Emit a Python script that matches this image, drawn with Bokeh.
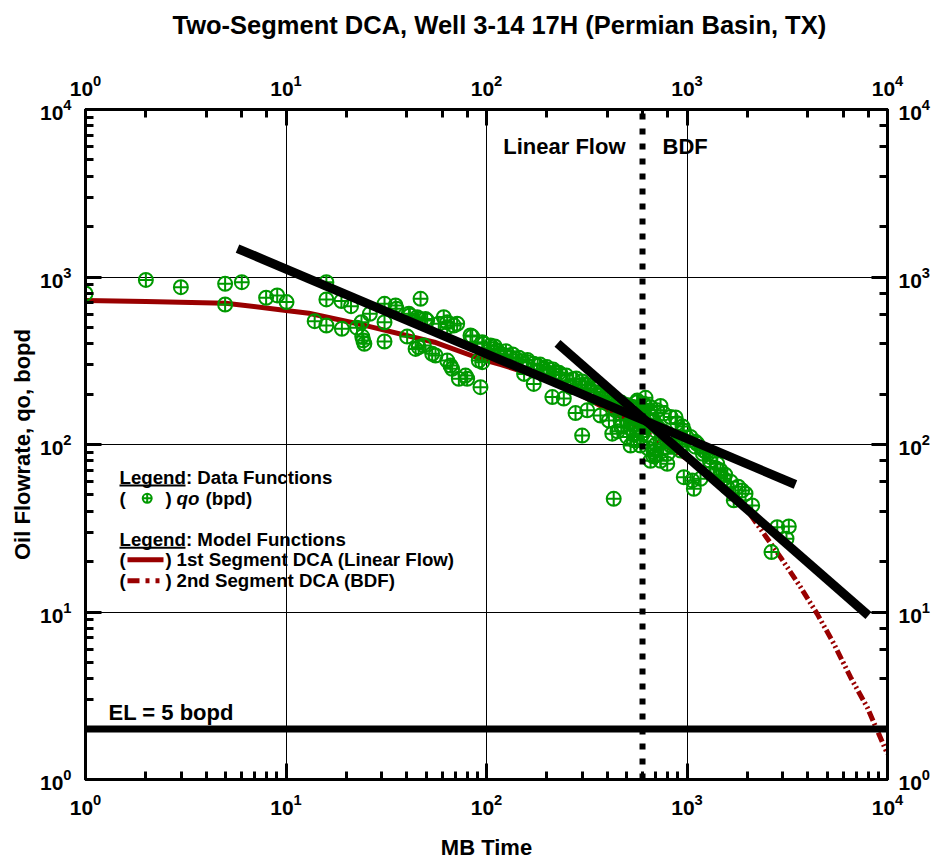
from bokeh.plotting import figure
from bokeh.models import Range1d, LogAxis, Label, Title
from bokeh.embed import file_html
from bokeh.resources import INLINE

FONT = "Liberation Sans"
GREEN = "#009900"
RED = "#990000"
TITLE = "Two-Segment DCA, Well 3-14 17H (Permian Basin, TX)"

# ---------------- data ----------------
mb_time = [1.0, 2.0, 2.99, 4.97, 6.02, 4.97, 7.96, 9.04, 10.06, 13.9,
           15.9, 15.9, 18.9, 21.1, 15.9, 19.0, 22.6, 23.8, 24.0, 24.3,
           24.6, 26.2, 31.0, 31.0, 31.0, 35.2, 35.6, 40.2, 41.5, 44.3,
           45.9, 48.7, 46.9, 45.9, 50.6, 53.6, 55.7, 61.2, 63.7, 63.7,
           71.4, 63.7, 66.1, 72.8, 78.6, 80.1, 83.2, 91.5, 93.3, 41.0,
           45.1, 49.6, 57.8, 68.7, 67.4, 84.9, 95.2, 104.7, 113, 96.9,
           108.7, 117.5, 131.8, 150.7, 172, 193, 221, 253, 294, 330,
           370, 431, 484, 565, 609, 154, 172, 213, 243, 278,
           318, 370, 408, 424, 503, 565, 95.2, 300, 431, 124.5,
           201, 262, 343, 466, 523, 543, 565, 609, 658, 710,
           766, 828, 894, 964, 1041, 1124, 1213, 1310, 1415, 1469,
           543, 586, 683, 738, 797, 964, 1062, 1082, 1310, 1527,
           1587, 1884, 1958, 2114, 1168, 1469, 1711, 2818, 3220, 3135,
           2638, 586, 643, 697, 738, 828, 929, 621, 738, 877,
           950, 1100, 1250, 658, 697, 586, 523, 466, 440, 140,
           160, 180, 205, 235, 270, 310, 350, 390, 450, 520,
           110, 125, 135, 145, 160, 185, 200, 215, 230, 250,
           280, 300, 320, 345, 380, 410, 440, 470, 500, 530,
           560, 590, 610, 550, 500, 470, 450, 520, 580, 600,
           620, 650, 680, 700, 720, 760, 800, 840, 880, 920,
           700, 760, 800, 640, 680, 1000, 1100, 1200, 1300, 1400,
           1550, 1650, 1800]
qo_bpd = [797, 961, 869, 910, 931, 685, 752, 776, 708, 545,
          931, 735, 718, 670, 513, 491, 498, 537, 441, 418,
          399, 603, 692, 537, 412, 676, 646, 441, 589, 372,
          381, 390, 741, 562, 549, 348, 340, 575, 537, 501,
          526, 317, 296, 247, 258, 247, 448, 317, 220, 603,
          575, 562, 526, 513, 283, 441, 408, 390, 364, 399,
          372, 348, 332, 314, 303, 283, 271, 241, 225, 210,
          196, 183, 167, 179, 160, 264, 230, 192, 188, 154,
          160, 149, 139, 116, 111, 106, 310, 113, 47.4, 340,
          264, 220, 192, 153, 134, 121, 183, 175, 167, 160,
          153, 146, 134, 121, 111, 101, 92, 84, 76.7, 70,
          106, 111, 90, 80, 76.7, 63.8, 61, 54.4, 73.3, 62.4,
          55.6, 53.1, 50.8, 43.3, 62.4, 65.3, 46.4, 32.1, 32.4, 27.4,
          22.8, 139, 130, 121, 106, 98.6, 92, 190, 170, 145,
          128, 104, 90, 80, 86, 98.6, 98.6, 139, 160, 325,
          310, 295, 280, 262, 245, 228, 205, 190, 175, 165,
          385, 360, 345, 330, 320, 300, 290, 280, 268, 258,
          248, 238, 226, 216, 205, 195, 185, 178, 172, 168,
          160, 150, 140, 150, 140, 128, 120, 125, 125, 115,
          170, 150, 140, 130, 125, 120, 115, 108, 100, 97,
          100, 95, 88, 95, 85, 110, 97, 88, 80, 72,
          66, 60, 56]

seg1_time = [1, 2, 5, 10, 13, 25, 55, 93, 118, 200, 300, 450, 600]
seg1_q = [725, 715, 698, 631, 608, 513, 408, 325, 300, 245, 195, 150, 122]

seg2_time = [600, 750, 1000, 1470, 2000, 2930, 3680, 4460, 5400, 6540, 7920, 10000]
seg2_q = [122, 101, 82, 58, 40.4, 21.2, 14.1, 9.75, 6.46, 4.08, 2.70, 1.42]

lf_line_time = [5.73, 3475]
lf_line_q = [1479, 57.7]
bdf_line_time = [226, 8035]
bdf_line_q = [401, 9.53]

t_bdf = 600          # start of boundary-dominated flow
q_el_plot = 2        # economic-limit line as drawn

# ---------------- layout ----------------
W, H = 934, 862
BL, BR, BT, BB = 85, 47, 109, 83
FW, FH = W - BL - BR, H - BT - BB


def frame_xy(fx, fy):
    """frame pixel offsets (from left / bottom) -> data coords (4 decades each)"""
    return 10 ** (4.0 * fx / FW), 10 ** (4.0 * fy / FH)


p = figure(width=W, height=H, x_axis_type="log", y_axis_type="log",
           x_range=Range1d(1, 1e4), y_range=Range1d(1, 1e4),
           output_backend="svg", toolbar_location=None,
           min_border_left=BL, min_border_right=BR,
           min_border_top=BT, min_border_bottom=BB,
           title=TITLE)

bottom_ax = p.below[0]
left_ax = p.left[0]

p.title.text_font = FONT
p.title.text_font_style = "bold"
p.title.text_font_size = "25.5px"
p.title.align = "left"
p.title.offset = 87
p.title.vertical_align = "top"
p.title.standoff = 14
p.title.text_color = "black"

p.outline_line_color = "black"
p.outline_line_width = 3
p.background_fill_color = "white"
p.border_fill_color = "white"

for g in (p.xgrid, p.ygrid):
    g.grid_line_color = "black"
    g.grid_line_width = 1
    g.grid_line_alpha = 1.0

top_ax = LogAxis()
right_ax = LogAxis()
p.add_layout(top_ax, "above")
p.add_layout(right_ax, "right")
# empty spacer between the top axis and the title
p.add_layout(Title(text=" ", text_font_size="1px", standoff=21), "above")

for ax in (bottom_ax, left_ax, top_ax, right_ax):
    ax.axis_line_width = 3
    ax.axis_line_color = "black"
    ax.major_tick_in = 16
    ax.major_tick_out = 0
    ax.minor_tick_in = 8
    ax.minor_tick_out = 0
    ax.major_tick_line_width = 3
    ax.minor_tick_line_width = 3
    ax.major_tick_line_color = "black"
    ax.minor_tick_line_color = "black"
    ax.major_label_text_font = FONT
    ax.major_label_text_font_style = "bold"
    ax.major_label_text_font_size = "21px"
    ax.major_label_text_color = "black"
    ax.major_label_standoff = 14
    ax.axis_label_text_font = FONT
    ax.axis_label_text_font_style = "bold"
    ax.axis_label_text_font_size = "22px"
    ax.axis_label_text_color = "black"

right_ax.major_label_standoff = 11
bottom_ax.major_label_standoff = 14
bottom_ax.axis_label = "MB Time"
bottom_ax.axis_label_standoff = 17
left_ax.axis_label = "Oil Flowrate, qo, bopd"
left_ax.axis_label_standoff = 2

# ---------------- glyphs ----------------
p.line(seg1_time, seg1_q, line_color=RED, line_width=5)
p.line(seg2_time, seg2_q, line_color=RED, line_width=5, line_dash="10 3 2 3 2 3")

p.scatter(mb_time, qo_bpd, marker="circle_cross", size=14, fill_color=None,
          line_color=GREEN, line_width=2)

p.line(lf_line_time, lf_line_q, line_color="black", line_width=9)
p.line(bdf_line_time, bdf_line_q, line_color="black", line_width=9)

p.line([1, 1e4], [q_el_plot, q_el_plot], line_color="black", line_width=7)
p.line([t_bdf, t_bdf], [1, 1e4], line_color="black", line_width=6, line_dash="6 9")

# ---------------- annotations (placed in data space) ----------------
def lab(text, fx, fy, size="18.7px", style="bold", align="left", xoff=0, x=None):
    dx, dy = frame_xy(fx, fy)
    if x is not None:
        dx = x
    p.add_layout(Label(x=dx, y=dy, text=text,
                       text_font=FONT, text_font_size=size,
                       text_font_style=style, text_color="black",
                       text_align=align, text_baseline="middle",
                       x_offset=xoff))

lab("Linear Flow", 0, 633.5, size="22px", align="right", xoff=-17, x=t_bdf)
lab("BDF", 0, 633.5, size="22px", align="left", xoff=20, x=t_bdf)
lab("EL = 5 bopd", 23, 67.3, size="22px")

# legend block
R1, R2, R3, R4, R5 = 302, 281.2, 239.8, 219.8, 198.8
lab("Legend: Data Functions", 34, R1)
lab("(", 34, R2)
lab(")", 80, R2)
lab("qo", 91, R2, style="bold italic")
lab("(bpd)", 120, R2)
lab("Legend: Model Functions", 34, R3)
lab("(", 34, R4)
lab(")", 80, R4)
lab("1st Segment DCA (Linear Flow)", 91, R4)
lab("(", 34, R5)
lab(")", 80, R5)
lab("2nd Segment DCA (BDF)", 91, R5)

for fy in (R1 - 8, R3 - 8):
    ua, uy = frame_xy(34, fy)
    ub, _ = frame_xy(100, fy)
    p.line([ua, ub], [uy, uy], line_color="black", line_width=2)

mx, my = frame_xy(61.7, R2)
p.scatter([mx], [my], marker="circle_cross", size=9, fill_color=None,
          line_color=GREEN, line_width=2)
la, ly = frame_xy(42, R4)
lb, _ = frame_xy(78, R4)
p.line([la, lb], [ly, ly], line_color=RED, line_width=5)
da, dy = frame_xy(42, R5)
db, _ = frame_xy(78, R5)
p.line([da, db], [dy, dy], line_color=RED, line_width=5, line_dash="12 6 4 6 4")

open("out.html", "w").write(file_html(p, INLINE))
